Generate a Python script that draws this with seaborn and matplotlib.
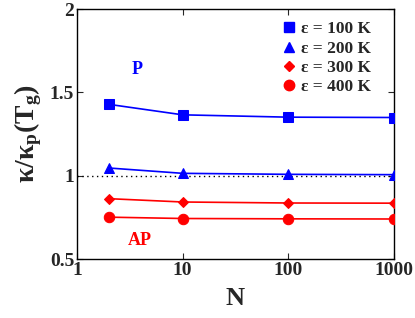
import matplotlib
matplotlib.use('Agg')

import pandas as pd
import matplotlib.pyplot as plt
import seaborn as sns
from matplotlib.lines import Line2D

# data
N = [2, 10, 100, 1000]
eps_labels = ["ε = 100 K", "ε = 200 K", "ε = 300 K", "ε = 400 K"]
k100 = [1.428, 1.365, 1.351, 1.349]
k200 = [1.046, 1.014, 1.008, 1.006]
k300 = [0.862, 0.842, 0.836, 0.835]
k400 = [0.751, 0.743, 0.741, 0.740]

colors = ["#0000ff", "#0000ff", "#ff0000", "#ff0000"]
marks = ["s", "^", "D", "o"]
msizes = [6.5, 6.5, 5, 7.5]

rows = []
for lab, vals in zip(eps_labels, [k100, k200, k300, k400]):
    for n, v in zip(N, vals):
        rows.append({"N": n, "kappa": v, "eps": lab})
df = pd.DataFrame(rows)

sns.set_style("ticks")
plt.rcParams["font.family"] = ["Liberation Serif", "DejaVu Serif"]
plt.rcParams["font.weight"] = "bold"
plt.rcParams["mathtext.fontset"] = "custom"
plt.rcParams["mathtext.rm"] = "Liberation Serif:bold"
plt.rcParams["mathtext.it"] = "Liberation Serif:bold"
plt.rcParams["mathtext.bf"] = "Liberation Serif:bold"

fig = plt.figure(figsize=(4.15, 3.18), dpi=100)
ax = fig.add_axes([77 / 415, 1 - 259 / 318, (394 - 77) / 415, (259 - 9) / 318])

ax.axhline(1.0, color="black", ls=(0, (1, 2.5)), lw=1.0, zorder=1)

for i, lab in enumerate(eps_labels):
    sub = df[df["eps"] == lab]
    sns.lineplot(data=sub, x="N", y="kappa", color=colors[i], marker=marks[i],
                 markersize=msizes[i], markeredgecolor=colors[i], lw=1.2,
                 ax=ax, legend=False, zorder=3)

ax.set_xscale("log")
ax.set_xlim(1, 1000)
ax.set_ylim(0.5, 2)
tickfont = {"fontsize": 14, "fontweight": "bold", "family": "Liberation Serif"}
ax.set_xticks([1, 10, 100, 1000])
ax.set_xticklabels(["1", "10", "100", "1000"], fontdict=tickfont)
ax.set_yticks([0.5, 1, 1.5, 2])
ax.set_yticklabels(["0.5", "1", "1.5", "2"], fontdict=tickfont)
ax.minorticks_off()
ax.tick_params(direction="in", top=True, right=True, length=4, width=0.8, pad=2)
for s in ax.spines.values():
    s.set_linewidth(1.0)
    s.set_color("black")

ax.set_xlabel("N", fontsize=19, fontweight="bold", labelpad=6)
ax.set_ylabel(r"κ/κ$_\mathbf{p}$(T$_\mathbf{g}$)", fontsize=20,
              fontweight="bold", labelpad=4)

ax.text(3.7, 1.64, "P", color="#0000ff", fontsize=13, fontweight="bold",
        ha="center", va="center")
ax.text(3.9, 0.61, "AP", color="#ff0000", fontsize=13, fontweight="bold",
        ha="center", va="center")

handles = [Line2D([], [], ls="", marker=m, color=c, markersize=s)
           for m, c, s in zip(marks, colors, msizes)]
ax.legend(handles, eps_labels, loc="upper right", frameon=False,
          bbox_to_anchor=(0.965, 1.0),
          prop={"size": 12.5, "weight": "bold", "family": "Liberation Serif"},
          handletextpad=0.3, labelspacing=0.18, borderaxespad=0.3,
          handlelength=0.8)

plt.savefig("out.png", dpi=100)
plt.close()
